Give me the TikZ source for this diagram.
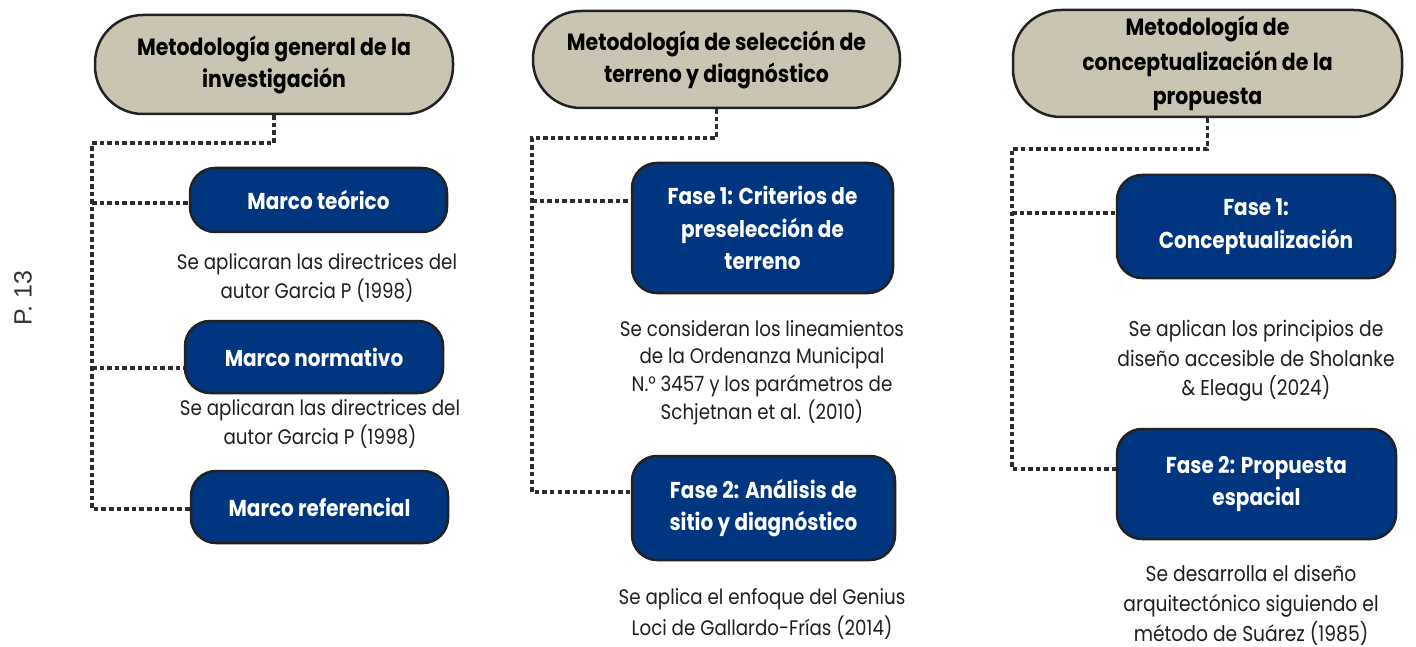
\documentclass[tikz,border=0pt]{standalone}
\usepackage{fontspec}
\setmainfont{Poppins}[FakeStretch=0.87]
\newfontfamily\pfont{Liberation Sans}
\usetikzlibrary{calc}
\definecolor{hdrfill}{RGB}{202,197,178}
\definecolor{boxblue}{RGB}{0,54,128}
\definecolor{edgec}{RGB}{34,34,34}
\definecolor{dotc}{RGB}{45,45,45}
\begin{document}
\begin{tikzpicture}[x=1pt,y=-1pt,
  hdr/.style={draw=edgec, line width=2.5pt, fill=hdrfill, rounded corners=48pt,
    align=center, font=\fontsize{23.5}{32}\selectfont\bfseries, inner sep=0pt},
  bbox/.style={draw=edgec, line width=2.5pt, fill=boxblue, rounded corners=25pt,
    align=center, text=white, font=\fontsize{23}{32.5}\selectfont\bfseries, inner sep=0pt},
  note/.style={align=center, font=\fontsize{21}{29}\selectfont, inner sep=0pt, text=black!88},
  dotline/.style={draw=dotc, line width=3.7pt, dash pattern=on 4.5pt off 3.1pt}]
\useasboundingbox (0,0) rectangle (1416,647);

% page label
\node[rotate=90, font=\pfont\fontsize{25}{27}\selectfont, text=black!80, inner sep=0pt] (pg) at (23,298) {P. 13};

% headers
\node[hdr, minimum width=358pt, minimum height=99pt] (h1) at (274,64.5) {Metodología general de la\\investigación};
\node[hdr, minimum width=367pt, minimum height=97pt] (h2) at (716.5,59.5) {Metodología de selección de\\terreno y diagnóstico};
\node[hdr, minimum width=389pt, minimum height=107pt, font=\fontsize{23.5}{34.5}\selectfont\bfseries] (h3) at (1207.5,63.5) {Metodología de\\conceptualización de la\\propuesta};

% column 1
\node[bbox, minimum width=257pt, minimum height=64pt] (B1a) at (318.5,200) {Marco teórico};
\node[note] (T1a) at (317,278) {Se aplicaran las directrices del\\autor Garcia P (1998)};
\node[bbox, minimum width=258pt, minimum height=72pt] (B1b) at (314,357) {Marco normativo};
\node[note] (T1b) at (320,424) {Se aplicaran las directrices del\\autor Garcia P (1998)};
\node[bbox, minimum width=257pt, minimum height=72pt] (B1c) at (319.5,507) {Marco referencial};

% column 2
\node[bbox, minimum width=261pt, minimum height=130pt] (B2a) at (762.5,228) {Fase 1: Criterios de\\preselección de\\terreno};
\node[note, font=\fontsize{21}{27.7}\selectfont] (T2a) at (762,372.5) {Se consideran los lineamientos\\de la Ordenanza Municipal\\N.° 3457 y los parámetros de\\Schjetnan et al. (2010)};
\node[bbox, minimum width=263pt, minimum height=104pt] (B2b) at (763.5,508) {Fase 2: Análisis de\\sitio y diagnóstico};
\node[note, font=\fontsize{21}{30.5}\selectfont] (T2b) at (762,614) {Se aplica el enfoque del Genius\\Loci de Gallardo-Frías (2014)};

% column 3
\node[bbox, minimum width=278pt, minimum height=103pt] (B3a) at (1256,226.5) {Fase 1:\\Conceptualización};
\node[note, font=\fontsize{21.5}{29.5}\selectfont] (T3a) at (1256,361) {Se aplican los principios de\\diseño accesible de Sholanke\\\& Eleagu (2024)};
\node[bbox, minimum width=279pt, minimum height=110pt] (B3b) at (1256.5,484) {Fase 2: Propuesta\\espacial};
\node[note, font=\fontsize{21.5}{30}\selectfont] (T3b) at (1251,605) {Se desarrolla el diseño\\arquitectónico siguiendo el\\método de Suárez (1985)};

% connector anchors
\coordinate (c1) at (92,143);
\coordinate (e1a) at ($(B1a.west)+(0,3)$);
\coordinate (e1b) at ($(B1b.west)+(0,11)$);
\coordinate (e1c) at ($(B1c.west)+(0,2)$);
\coordinate (c2) at (532,138);
\coordinate (e2a) at ($(B2a.west)+(0,-27)$);
\coordinate (e2b) at ($(B2b.west)+(0,-16)$);
\coordinate (c3) at (1012,149);
\coordinate (e3a) at ($(B3a.west)+(0,-13.5)$);
\coordinate (e3b) at ($(B3b.west)+(0,-15)$);

% connectors
\draw[dotline] (h1.south) |- (c1) |- (e1c);
\draw[dotline] (c1 |- e1a) -- (e1a);
\draw[dotline] (c1 |- e1b) -- (e1b);
\draw[dotline] (h2.south) |- (c2) |- (e2b);
\draw[dotline] (c2 |- e2a) -- (e2a);
\draw[dotline] (h3.south) |- (c3) |- (e3b);
\draw[dotline] (c3 |- e3a) -- (e3a);
\end{tikzpicture}
\end{document}
